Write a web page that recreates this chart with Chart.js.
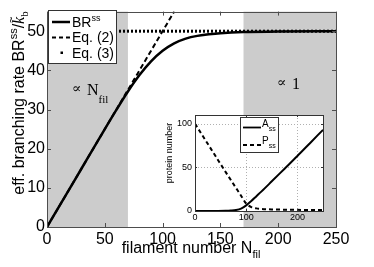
<!DOCTYPE html>
<html>
<head>
<meta charset="utf-8">
<script src="https://cdn.jsdelivr.net/npm/chart.js@4.4.1/dist/chart.umd.min.js"></script>
<style>
html, body { margin: 0; padding: 0; background: #fff; }
#wrap { position: relative; width: 374px; height: 267px; }
#main { position: absolute; left: 0; top: 0; }
#inset { position: absolute; left: 155px; top: 105px; }
</style>
</head>
<body>
<div id="wrap">
<canvas id="main" width="374" height="267"></canvas>
<canvas id="inset" width="175" height="120"></canvas>
</div>
<script>
// main panel: effective branching rate vs filament number
const brN = [0, 10, 20, 30, 40, 50, 60, 70, 80, 90, 100, 110, 120, 130, 140, 150, 170, 200, 250];
const brVal = [0, 5, 10, 15, 20, 25, 29.9, 34.6, 38.8, 42.3, 45, 46.9, 48.1, 48.8, 49.2, 49.5, 49.8, 49.9, 50];
const eq2N = [0, 110];
const eq2Val = [0, 55];
const eq3N = [0, 250];
const eq3Val = [50, 50];
const xTicks = [0, 50, 100, 150, 200, 250];
const yTicks = [0, 10, 20, 30, 40, 50];
const shadeRanges = [[0, 70], [170, 250]];

// inset: protein numbers
const insetN = [0, 20, 40, 60, 70, 80, 90, 100, 110, 120, 130, 150, 175, 200, 225, 250];
const aSS = [0, 0, 0.1, 0.3, 0.6, 1.2, 2.8, 6.5, 11.5, 17, 22.5, 34, 48.5, 63, 78, 93];
const pSS = [100, 81.5, 63, 44.5, 35.5, 26.5, 17.5, 8.5, 4.5, 3, 2.4, 1.8, 1.5, 1.3, 1.2, 1.1];
const insetXTicks = [0, 100, 200];
const insetYTicks = [0, 50, 100];

const SANS = '"Liberation Sans", Arial, Helvetica, sans-serif';
const SERIF = '"Liberation Serif", "Times New Roman", serif';
const AXIS_COLOR = '#4d4d4d';

function pts(xs, ys) {
    return xs.map((x, i) => ({ x: x, y: ys[i] }));
}

// draw a run of text pieces, each with its own font and vertical shift
function drawPieces(ctx, x, y, pieces, align) {
    let total = 0;
    pieces.forEach(p => { ctx.font = p.f; total += ctx.measureText(p.t).width; });
    let cx = align === 'center' ? x - total / 2 : x;
    ctx.textAlign = 'left';
    ctx.textBaseline = 'alphabetic';
    pieces.forEach(p => {
        ctx.font = p.f;
        ctx.fillText(p.t, cx, y + (p.dy || 0));
        if (p.tilde) {
            ctx.font = '11px ' + SANS;
            ctx.fillText('~', cx + 1, y - 9);
            ctx.font = p.f;
        }
        cx += ctx.measureText(p.t).width;
    });
}

function drawInsideTicks(chart, len, color) {
    const ctx = chart.ctx;
    const a = chart.chartArea;
    const xs = chart.scales.x, ys = chart.scales.y;
    ctx.save();
    ctx.strokeStyle = color;
    ctx.lineWidth = 1;
    ctx.beginPath();
    xs.ticks.forEach(t => {
        const px = Math.round(xs.getPixelForValue(t.value)) + 0.5;
        ctx.moveTo(px, a.bottom); ctx.lineTo(px, a.bottom - len);
        ctx.moveTo(px, a.top); ctx.lineTo(px, a.top + len);
    });
    ys.ticks.forEach(t => {
        const py = Math.round(ys.getPixelForValue(t.value)) + 0.5;
        ctx.moveTo(a.left, py); ctx.lineTo(a.left + len, py);
        ctx.moveTo(a.right, py); ctx.lineTo(a.right - len, py);
    });
    ctx.stroke();
    ctx.strokeRect(Math.round(a.left) + 0.5, Math.round(a.top) + 0.5,
        Math.round(a.right - a.left), Math.round(a.bottom - a.top));
    ctx.restore();
}

const shadePlugin = {
    id: 'shade',
    beforeDatasetsDraw(chart) {
        const ctx = chart.ctx, a = chart.chartArea, xs = chart.scales.x;
        ctx.save();
        ctx.fillStyle = '#cccccc';
        shadeRanges.forEach(r => {
            const x0 = xs.getPixelForValue(r[0]), x1 = xs.getPixelForValue(r[1]);
            ctx.fillRect(x0, a.top, x1 - x0, a.bottom - a.top);
        });
        ctx.restore();
    }
};

const mainDecor = {
    id: 'mainDecor',
    afterDatasetsDraw(chart) {
        const ctx = chart.ctx;
        drawInsideTicks(chart, 4, AXIS_COLOR);
        ctx.save();
        ctx.fillStyle = '#000';
        // regime annotations
        ctx.font = '14px "DejaVu Serif", serif';
        ctx.textBaseline = 'alphabetic';
        ctx.fillText('\u221D', 72, 93);
        drawPieces(ctx, 87, 95, [
            { t: 'N', f: '16px ' + SERIF },
            { t: 'fil', f: '11px ' + SERIF, dy: 8 }
        ]);
        ctx.font = '14px "DejaVu Serif", serif';
        ctx.fillText('\u221D', 277, 87);
        ctx.font = '16px ' + SERIF;
        ctx.fillText('1', 292, 89);

        // legend
        const lx = 48.5, ly = 10.5, lw = 68, lh = 53;
        ctx.fillStyle = '#fff';
        ctx.fillRect(lx, ly, lw, lh);
        ctx.strokeStyle = '#333';
        ctx.lineWidth = 1;
        ctx.strokeRect(lx, ly, lw, lh);
        ctx.strokeStyle = '#000';
        ctx.lineWidth = 2.5;
        ctx.beginPath(); ctx.moveTo(52, 22); ctx.lineTo(70, 22); ctx.stroke();
        ctx.lineWidth = 2;
        ctx.setLineDash([4, 3]);
        ctx.beginPath(); ctx.moveTo(52, 37.5); ctx.lineTo(70, 37.5); ctx.stroke();
        ctx.setLineDash([]);
        ctx.fillStyle = '#000';
        ctx.fillRect(60.5, 51.5, 2.5, 2.5);
        drawPieces(ctx, 72, 27, [
            { t: 'BR', f: '14px ' + SANS },
            { t: 'ss', f: '9px ' + SANS, dy: -6 }
        ]);
        ctx.font = '14px ' + SANS;
        ctx.fillText('Eq. (2)', 72, 42);
        ctx.fillText('Eq. (3)', 72, 58);
        ctx.restore();
    },
    afterDraw(chart) {
        const ctx = chart.ctx;
        ctx.save();
        ctx.fillStyle = '#000';
        // x axis title
        drawPieces(ctx, 191, 253, [
            { t: 'filament number N', f: '16px ' + SANS },
            { t: 'fil', f: '11px ' + SANS, dy: 5 }
        ], 'center');
        // y axis title
        ctx.translate(24, 103);
        ctx.rotate(-Math.PI / 2);
        drawPieces(ctx, 0, 0, [
            { t: 'eff. branching rate BR', f: '16px ' + SANS },
            { t: 'ss', f: '11px ' + SANS, dy: -7 },
            { t: '/', f: '16px ' + SANS },
            { t: 'k', f: 'italic 16px ' + SERIF, tilde: true },
            { t: 'b', f: '11px ' + SERIF, dy: 4 }
        ], 'center');
        ctx.restore();
    }
};

const mainChart = new Chart(document.getElementById('main'), {
    type: 'line',
    data: {
        datasets: [{
            label: 'BRss',
            data: pts(brN, brVal),
            borderColor: '#000',
            borderWidth: 2.5,
            pointRadius: 0,
            cubicInterpolationMode: 'monotone'
        }, {
            label: 'Eq. (2)',
            data: pts(eq2N, eq2Val),
            borderColor: '#000',
            borderWidth: 2,
            borderDash: [5, 3],
            pointRadius: 0
        }, {
            label: 'Eq. (3)',
            data: pts(eq3N, eq3Val),
            borderColor: '#000',
            borderWidth: 3,
            borderDash: [2, 2],
            pointRadius: 0
        }]
    },
    options: {
        responsive: false,
        animation: false,
        layout: { padding: { top: 7, right: 38, left: 0, bottom: 0 } },
        plugins: { legend: { display: false }, tooltip: { enabled: false } },
        scales: {
            x: {
                type: 'linear', min: 0, max: 250,
                afterBuildTicks: s => { s.ticks = xTicks.map(v => ({ value: v })); },
                afterFit: s => { s.height = 40; },
                grid: { display: false, drawTicks: false },
                border: { display: false },
                ticks: { font: { family: SANS, size: 16 }, color: '#000', padding: 3, maxRotation: 0 }
            },
            y: {
                type: 'linear', min: 0, max: 55,
                afterBuildTicks: s => { s.ticks = yTicks.map(v => ({ value: v })); },
                afterFit: s => { s.width = 47; },
                grid: { display: false, drawTicks: false },
                border: { display: false },
                ticks: { font: { family: SANS, size: 16 }, color: '#000', padding: 2 }
            }
        }
    },
    plugins: [shadePlugin, mainDecor]
});

const insetDecor = {
    id: 'insetDecor',
    beforeDatasetsDraw(chart) {
        const ctx = chart.ctx, a = chart.chartArea;
        ctx.save();
        ctx.fillStyle = '#fff';
        ctx.fillRect(a.left, a.top, a.right - a.left, a.bottom - a.top);
        ctx.strokeStyle = '#b0b0b0';
        ctx.lineWidth = 1;
        ctx.setLineDash([1, 2]);
        ctx.beginPath();
        insetXTicks.slice(1).forEach(v => {
            const px = Math.round(chart.scales.x.getPixelForValue(v)) + 0.5;
            ctx.moveTo(px, a.top); ctx.lineTo(px, a.bottom);
        });
        insetYTicks.slice(1).forEach(v => {
            const py = Math.round(chart.scales.y.getPixelForValue(v)) + 0.5;
            ctx.moveTo(a.left, py); ctx.lineTo(a.right, py);
        });
        ctx.stroke();
        ctx.restore();
    },
    afterDatasetsDraw(chart) {
        const ctx = chart.ctx;
        drawInsideTicks(chart, 2, '#333');
        ctx.save();
        const lx = 85.5, ly = 12.5, lw = 38, lh = 35;
        ctx.fillStyle = '#fff';
        ctx.fillRect(lx, ly, lw, lh);
        ctx.strokeStyle = '#333';
        ctx.lineWidth = 1;
        ctx.strokeRect(lx, ly, lw, lh);
        ctx.strokeStyle = '#000';
        ctx.lineWidth = 1.8;
        ctx.beginPath(); ctx.moveTo(88, 22.5); ctx.lineTo(106, 22.5); ctx.stroke();
        ctx.setLineDash([4, 3]);
        ctx.beginPath(); ctx.moveTo(88, 40); ctx.lineTo(106, 40); ctx.stroke();
        ctx.setLineDash([]);
        ctx.fillStyle = '#000';
        drawPieces(ctx, 107, 22, [
            { t: 'A', f: '10px ' + SANS },
            { t: 'ss', f: '7px ' + SANS, dy: 4 }
        ]);
        drawPieces(ctx, 107, 39, [
            { t: 'P', f: '10px ' + SANS },
            { t: 'ss', f: '7px ' + SANS, dy: 4 }
        ]);
        // y axis title
        ctx.translate(17, 48);
        ctx.rotate(-Math.PI / 2);
        ctx.font = '9px ' + SANS;
        ctx.textAlign = 'center';
        ctx.fillText('protein number', 0, 0);
        ctx.restore();
    }
};

const insetChart = new Chart(document.getElementById('inset'), {
    type: 'line',
    data: {
        datasets: [{
            label: 'Ass',
            data: pts(insetN, aSS),
            borderColor: '#000',
            borderWidth: 2,
            pointRadius: 0,
            cubicInterpolationMode: 'monotone'
        }, {
            label: 'Pss',
            data: pts(insetN, pSS),
            borderColor: '#000',
            borderWidth: 2,
            borderDash: [4, 3],
            pointRadius: 0,
            cubicInterpolationMode: 'monotone'
        }]
    },
    options: {
        responsive: false,
        animation: false,
        layout: { padding: { top: 10, right: 7, left: 0, bottom: 0 } },
        plugins: { legend: { display: false }, tooltip: { enabled: false } },
        scales: {
            x: {
                type: 'linear', min: 0, max: 250,
                afterBuildTicks: s => { s.ticks = insetXTicks.map(v => ({ value: v })); },
                afterFit: s => { s.height = 14; },
                grid: { display: false, drawTicks: false },
                border: { display: false },
                ticks: { font: { family: SANS, size: 9 }, color: '#000', padding: 1, maxRotation: 0 }
            },
            y: {
                type: 'linear', min: 0, max: 110,
                afterBuildTicks: s => { s.ticks = insetYTicks.map(v => ({ value: v })); },
                afterFit: s => { s.width = 40; },
                grid: { display: false, drawTicks: false },
                border: { display: false },
                ticks: { font: { family: SANS, size: 9 }, color: '#000', padding: 3 }
            }
        }
    },
    plugins: [insetDecor]
});
</script>
</body>
</html>
